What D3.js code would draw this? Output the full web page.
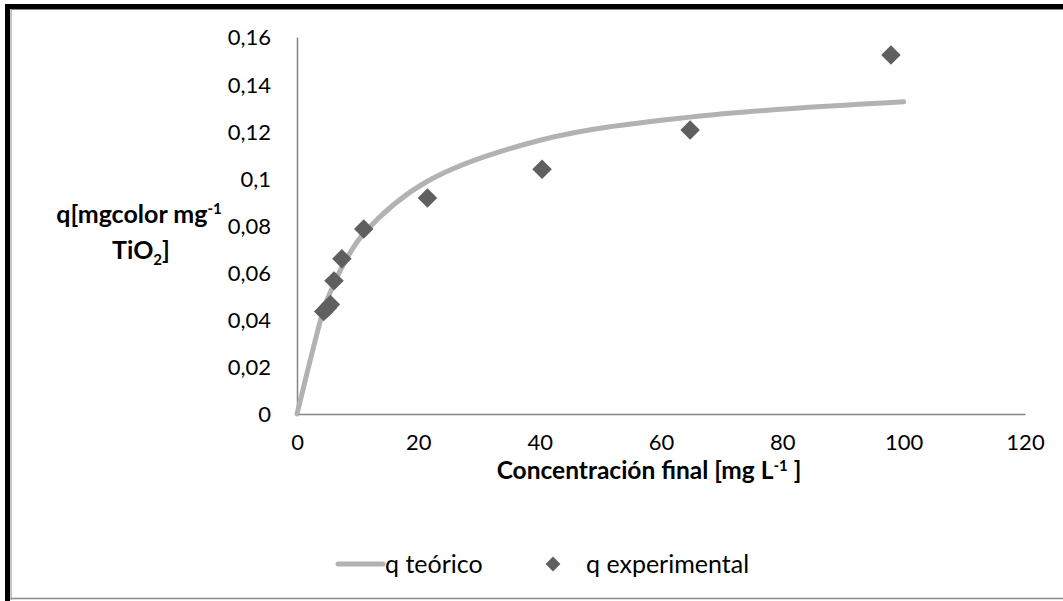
<!DOCTYPE html>
<html><head><meta charset="utf-8">
<script src="https://cdn.jsdelivr.net/npm/d3@7"></script>
<style>body{margin:0;background:#fff}svg{display:block}text{font-family:Lato,"Open Sans",sans-serif;fill:#000}</style>
</head><body>
<script>
// experimental data
const expC = [4.4, 5.0, 5.5, 6.1, 7.4, 11.0, 21.5, 40.4, 64.8, 97.9];
const expQ = [0.0435, 0.045, 0.0465, 0.0565, 0.0659, 0.0785, 0.0917, 0.1039, 0.1205, 0.1524];
// theoretical curve
const teoC = [0, 4.4, 5.0, 5.5, 6.1, 7.4, 11.0, 21.5, 40.4, 64.8, 100];
const teoQ = [0, 0.0446, 0.0487, 0.0518, 0.0553, 0.0622, 0.0766, 0.0988, 0.1164, 0.1260, 0.1325];
const xTicks = [0, 20, 40, 60, 80, 100, 120];
const yTicks = [0, 0.02, 0.04, 0.06, 0.08, 0.1, 0.12, 0.14, 0.16];
const legendLabels = ["q teórico", "q experimental"];

const W = 1063, H = 601;
const svg = d3.select("body").append("svg").attr("width", W).attr("height", H);

// frame
svg.append("line").attr("x1", 11).attr("x2", W).attr("y1", 598.5).attr("y2", 598.5).attr("stroke", "#8a8a8a").attr("stroke-width", 1.5);
svg.append("line").attr("x1", 11).attr("x2", W).attr("y1", 9.5).attr("y2", 9.5).attr("stroke", "#8a8a8a").attr("stroke-width", 1);
svg.append("line").attr("x1", 11).attr("x2", 11).attr("y1", 9).attr("y2", 600).attr("stroke", "#8a8a8a").attr("stroke-width", 1);
svg.append("line").attr("x1", 7.5).attr("x2", 7.5).attr("y1", 4).attr("y2", 601).attr("stroke", "#000").attr("stroke-width", 5);
svg.append("line").attr("x1", 5).attr("x2", W).attr("y1", 6.5).attr("y2", 6.5).attr("stroke", "#000").attr("stroke-width", 5);

const x = d3.scaleLinear().domain([0, 120]).range([297, 1025]);
const y = d3.scaleLinear().domain([0, 0.16]).range([414, 37]);
const fmt = d => d3.format(".2~f")(d).replace(".", ",");

// x axis
const xa = svg.append("g").attr("transform", `translate(0,${y(0)})`)
  .call(d3.axisBottom(x).tickValues(xTicks).tickSize(0).tickPadding(0).tickFormat(d => d));
xa.select(".domain").attr("stroke", "#868686").attr("stroke-width", 1.5);
xa.selectAll("text").style("font-size", "22px").attr("fill", "#000").attr("y", 36).attr("dy", null);

// y axis
const ya = svg.append("g").attr("transform", `translate(${x(0)},0)`)
  .call(d3.axisLeft(y).tickValues(yTicks).tickSize(0).tickPadding(26).tickFormat(fmt));
ya.select(".domain").attr("stroke", "#868686").attr("stroke-width", 1.5);
ya.selectAll("text").style("font-size", "22px").attr("fill", "#000").attr("dy", "0.36em");

// curve
const line = d3.line().x((d, i) => x(teoC[i])).y((d, i) => y(teoQ[i])).curve(d3.curveCatmullRom.alpha(0.5));
svg.append("path").attr("d", line(teoC)).attr("fill", "none").attr("stroke", "#b2b2b2")
  .attr("stroke-width", 5).attr("stroke-linecap", "round");

// points
const diamond = d3.symbol().type(d3.symbolSquare).size(190);
svg.append("g").selectAll("path").data(expC).join("path")
  .attr("d", diamond)
  .attr("transform", (d, i) => `translate(${x(d)},${y(expQ[i])}) rotate(45)`)
  .attr("fill", "#5f5f5f");

// axis titles
const yt = svg.append("text").attr("text-anchor", "middle").style("font-size", "25px").style("font-weight", "bold");
yt.append("tspan").attr("x", 139).attr("y", 223).text("q[mgcolor mg");
yt.append("tspan").attr("dy", -9).style("font-size", "15px").text("-1");
const yt2 = svg.append("text").attr("text-anchor", "middle").style("font-size", "25px").style("font-weight", "bold").attr("x", 141).attr("y", 259);
yt2.append("tspan").text("TiO");
yt2.append("tspan").attr("dy", 6).style("font-size", "15px").text("2");
yt2.append("tspan").attr("dy", -6).text("]");

const xt = svg.append("text").attr("text-anchor", "middle").style("font-size", "24.5px").style("font-weight", "bold").attr("x", 649).attr("y", 479);
xt.append("tspan").text("Concentración final [mg L");
xt.append("tspan").attr("dy", -8).style("font-size", "15px").text("-1");
xt.append("tspan").attr("dy", 8).text(" ]");

// legend
const lg = svg.append("g");
lg.append("line").attr("x1", 338).attr("x2", 383).attr("y1", 564).attr("y2", 564).attr("stroke", "#b2b2b2").attr("stroke-width", 5).attr("stroke-linecap", "round");
lg.append("text").attr("x", 385).attr("y", 564).attr("dy", "0.35em").style("font-size", "25px").text(legendLabels[0]);
lg.append("path").attr("d", d3.symbol().type(d3.symbolSquare).size(110)).attr("transform", "translate(553,564) rotate(45)").attr("fill", "#5f5f5f");
lg.append("text").attr("x", 586).attr("y", 564).attr("dy", "0.35em").style("font-size", "25px").text(legendLabels[1]);
</script>
</body></html>
